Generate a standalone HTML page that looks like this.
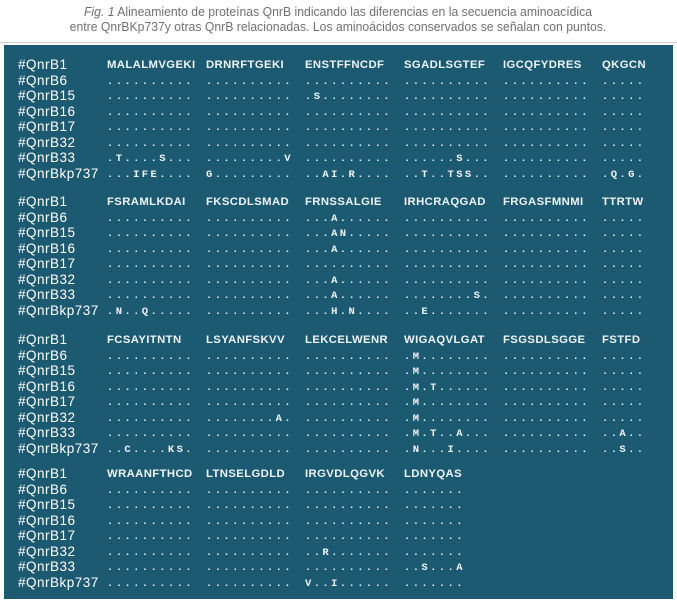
<!DOCTYPE html>
<html><head><meta charset="utf-8"><style>
html,body{margin:0;padding:0;background:#fff;width:677px;height:602px;overflow:hidden;position:relative}
.cap{position:absolute;left:338px;font:13px "Liberation Sans",sans-serif;color:#707070;transform:translateX(-50%) scaleX(.94);white-space:nowrap}
.rule{position:absolute;left:0;width:677px;top:42px;height:1px;background:#d0d0d0}
.panel{position:absolute;left:4px;top:45px;width:669px;height:554px;background:#1c5a72}
.r{position:absolute;left:0;height:15px;white-space:pre;color:#fff}
.l{position:absolute;left:14px;font:13.5px "Liberation Sans",sans-serif;letter-spacing:0.5px;top:-1px}
.s{position:absolute;left:103px;top:2px;font:bold 10.5px "Liberation Mono",monospace;letter-spacing:2.4px;color:#eef3f6}
.s span{display:inline-block;width:99px;overflow:visible}
.h{font:bold 11.3px "Liberation Sans",sans-serif;letter-spacing:0.4px;top:1px}
</style></head><body>
<div class="cap" style="top:4px"><i>Fig. 1</i> Alineamiento de proteínas QnrB indicando las diferencias en la secuencia aminoacídica</div>
<div class="cap" style="top:19px">entre QnrBKp737y otras QnrB relacionadas. Los aminoácidos conservados se señalan con puntos.</div>
<div class="rule"></div>
<div class="panel">
<div class="r" style="top:13px"><span class="l">#QnrB1</span><span class="s h"><span>MALALMVGEKI</span><span>DRNRFTGEKI</span><span>ENSTFFNCDF</span><span>SGADLSGTEF</span><span>IGCQFYDRES</span><span>QKGCN</span></span></div>
<div class="r" style="top:28.5px"><span class="l">#QnrB6</span><span class="s"><span>..........</span><span>..........</span><span>..........</span><span>..........</span><span>..........</span><span>.....</span></span></div>
<div class="r" style="top:44px"><span class="l">#QnrB15</span><span class="s"><span>..........</span><span>..........</span><span>.S........</span><span>..........</span><span>..........</span><span>.....</span></span></div>
<div class="r" style="top:59.5px"><span class="l">#QnrB16</span><span class="s"><span>..........</span><span>..........</span><span>..........</span><span>..........</span><span>..........</span><span>.....</span></span></div>
<div class="r" style="top:75px"><span class="l">#QnrB17</span><span class="s"><span>..........</span><span>..........</span><span>..........</span><span>..........</span><span>..........</span><span>.....</span></span></div>
<div class="r" style="top:90.5px"><span class="l">#QnrB32</span><span class="s"><span>..........</span><span>..........</span><span>..........</span><span>..........</span><span>..........</span><span>.....</span></span></div>
<div class="r" style="top:106px"><span class="l">#QnrB33</span><span class="s"><span>.T....S...</span><span>.........V</span><span>..........</span><span>......S...</span><span>..........</span><span>.....</span></span></div>
<div class="r" style="top:121.5px"><span class="l">#QnrBkp737</span><span class="s"><span>...IFE....</span><span>G.........</span><span>..AI.R....</span><span>..T..TSS..</span><span>..........</span><span>.Q.G.</span></span></div>
<div class="r" style="top:150px"><span class="l">#QnrB1</span><span class="s h"><span>FSRAMLKDAI</span><span>FKSCDLSMAD</span><span>FRNSSALGIE</span><span>IRHCRAQGAD</span><span>FRGASFMNMI</span><span>TTRTW</span></span></div>
<div class="r" style="top:165.5px"><span class="l">#QnrB6</span><span class="s"><span>..........</span><span>..........</span><span>...A......</span><span>..........</span><span>..........</span><span>.....</span></span></div>
<div class="r" style="top:181px"><span class="l">#QnrB15</span><span class="s"><span>..........</span><span>..........</span><span>...AN.....</span><span>..........</span><span>..........</span><span>.....</span></span></div>
<div class="r" style="top:196.5px"><span class="l">#QnrB16</span><span class="s"><span>..........</span><span>..........</span><span>...A......</span><span>..........</span><span>..........</span><span>.....</span></span></div>
<div class="r" style="top:212px"><span class="l">#QnrB17</span><span class="s"><span>..........</span><span>..........</span><span>..........</span><span>..........</span><span>..........</span><span>.....</span></span></div>
<div class="r" style="top:227.5px"><span class="l">#QnrB32</span><span class="s"><span>..........</span><span>..........</span><span>...A......</span><span>..........</span><span>..........</span><span>.....</span></span></div>
<div class="r" style="top:243px"><span class="l">#QnrB33</span><span class="s"><span>..........</span><span>..........</span><span>...A......</span><span>........S.</span><span>..........</span><span>.....</span></span></div>
<div class="r" style="top:258.5px"><span class="l">#QnrBkp737</span><span class="s"><span>.N..Q.....</span><span>..........</span><span>...H.N....</span><span>..E.......</span><span>..........</span><span>.....</span></span></div>
<div class="r" style="top:288px"><span class="l">#QnrB1</span><span class="s h"><span>FCSAYITNTN</span><span>LSYANFSKVV</span><span>LEKCELWENR</span><span>WIGAQVLGAT</span><span>FSGSDLSGGE</span><span>FSTFD</span></span></div>
<div class="r" style="top:303.5px"><span class="l">#QnrB6</span><span class="s"><span>..........</span><span>..........</span><span>..........</span><span>.M........</span><span>..........</span><span>.....</span></span></div>
<div class="r" style="top:319px"><span class="l">#QnrB15</span><span class="s"><span>..........</span><span>..........</span><span>..........</span><span>.M........</span><span>..........</span><span>.....</span></span></div>
<div class="r" style="top:334.5px"><span class="l">#QnrB16</span><span class="s"><span>..........</span><span>..........</span><span>..........</span><span>.M.T......</span><span>..........</span><span>.....</span></span></div>
<div class="r" style="top:350px"><span class="l">#QnrB17</span><span class="s"><span>..........</span><span>..........</span><span>..........</span><span>.M........</span><span>..........</span><span>.....</span></span></div>
<div class="r" style="top:365.5px"><span class="l">#QnrB32</span><span class="s"><span>..........</span><span>........A.</span><span>..........</span><span>.M........</span><span>..........</span><span>.....</span></span></div>
<div class="r" style="top:381px"><span class="l">#QnrB33</span><span class="s"><span>..........</span><span>..........</span><span>..........</span><span>.M.T..A...</span><span>..........</span><span>..A..</span></span></div>
<div class="r" style="top:396.5px"><span class="l">#QnrBkp737</span><span class="s"><span>..C....KS.</span><span>..........</span><span>..........</span><span>.N...I....</span><span>..........</span><span>..S..</span></span></div>
<div class="r" style="top:422px"><span class="l">#QnrB1</span><span class="s h"><span>WRAANFTHCD</span><span>LTNSELGDLD</span><span>IRGVDLQGVK</span><span>LDNYQAS</span></span></div>
<div class="r" style="top:437.5px"><span class="l">#QnrB6</span><span class="s"><span>..........</span><span>..........</span><span>..........</span><span>.......</span></span></div>
<div class="r" style="top:453px"><span class="l">#QnrB15</span><span class="s"><span>..........</span><span>..........</span><span>..........</span><span>.......</span></span></div>
<div class="r" style="top:468.5px"><span class="l">#QnrB16</span><span class="s"><span>..........</span><span>..........</span><span>..........</span><span>.......</span></span></div>
<div class="r" style="top:484px"><span class="l">#QnrB17</span><span class="s"><span>..........</span><span>..........</span><span>..........</span><span>.......</span></span></div>
<div class="r" style="top:499.5px"><span class="l">#QnrB32</span><span class="s"><span>..........</span><span>..........</span><span>..R.......</span><span>.......</span></span></div>
<div class="r" style="top:515px"><span class="l">#QnrB33</span><span class="s"><span>..........</span><span>..........</span><span>..........</span><span>..S...A</span></span></div>
<div class="r" style="top:530.5px"><span class="l">#QnrBkp737</span><span class="s"><span>..........</span><span>..........</span><span>V..I......</span><span>.......</span></span></div>
</div>
</body></html>
